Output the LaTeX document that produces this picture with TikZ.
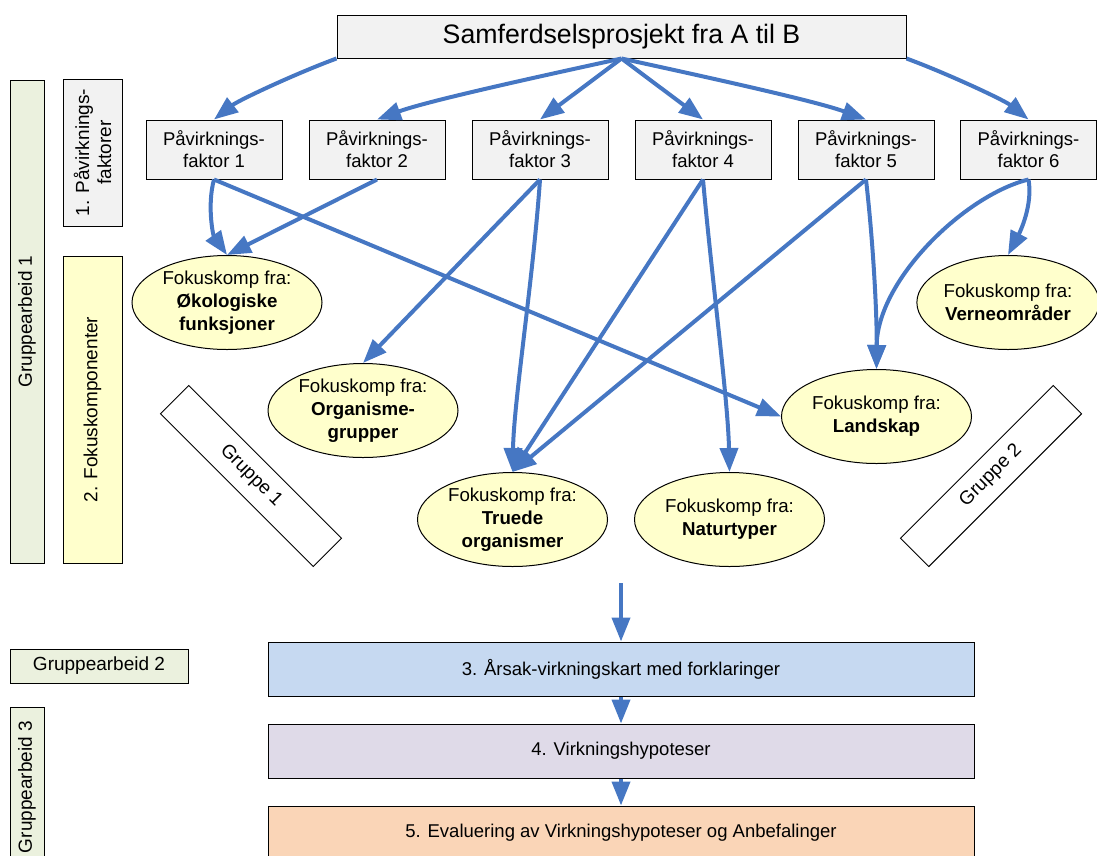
\documentclass[tikz,border=0pt]{standalone}
\usepackage{fontspec}
\setmainfont{Liberation Sans}
\usetikzlibrary{arrows.meta,shapes.geometric}

\definecolor{arrowblue}{HTML}{4677C3}
\definecolor{boxgray}{HTML}{F2F2F2}
\definecolor{greenbar}{HTML}{EBF1DE}
\definecolor{yellowbar}{HTML}{FFFFCC}
\definecolor{ellfill}{HTML}{FFFFCC}
\definecolor{stepblue}{HTML}{C6D9F1}
\definecolor{steplav}{HTML}{DFDAE8}
\definecolor{steppeach}{HTML}{FAD5B7}

\tikzset{
  pbox/.style={draw=black, line width=1pt, fill=boxgray, minimum width=136pt,
    minimum height=59pt, inner sep=0pt, align=center,
    font=\fontsize{18.5}{22}\selectfont},
  fokus/.style={draw=black, line width=1pt, fill=ellfill, ellipse,
    minimum width=190pt, minimum height=94pt, inner sep=0pt, align=center,
    font=\fontsize{18.7}{23}\selectfont},
  sidebar/.style={draw=black, line width=1pt, rotate=90, inner sep=0pt,
    align=center, font=\fontsize{19}{22}\selectfont},
  stepbox/.style={draw=black, line width=1pt, minimum width=706pt,
    minimum height=54pt, inner sep=0pt, font=\fontsize{18.5}{22}\selectfont},
  grpbox/.style={draw=black, line width=1pt, fill=white, minimum width=216pt,
    minimum height=40pt, inner sep=0pt, font=\fontsize{19}{22}\selectfont},
  link/.style={draw=arrowblue, line width=4pt,
    -{Triangle[length=24pt,width=18pt]}},
}

\begin{document}
\begin{tikzpicture}[x=1pt,y=-1pt]
\useasboundingbox (0,0) rectangle (1097,855);

% project box
\node[draw=black, line width=1pt, fill=boxgray, minimum width=569pt,
  minimum height=43pt, inner sep=0pt, font=\fontsize{26.7}{30}\selectfont]
  (top) at (621.5,36.5) {Samferdselsprosjekt fra A til B};

% impact factors
\node[pbox] (f1) at (214,149.5) {Påvirknings-\\faktor 1};
\node[pbox] (f2) at (377,149.5) {Påvirknings-\\faktor 2};
\node[pbox] (f3) at (540,149.5) {Påvirknings-\\faktor 3};
\node[pbox] (f4) at (703,149.5) {Påvirknings-\\faktor 4};
\node[pbox] (f5) at (866,149.5) {Påvirknings-\\faktor 5};
\node[pbox] (f6) at (1028.5,149.5) {Påvirknings-\\faktor 6};

% focus components
\node[fokus] (eco) at (227,302.5) {Fokuskomp fra:\\\textbf{Økologiske}\\\textbf{funksjoner}};
\node[fokus] (org) at (363,410.5) {Fokuskomp fra:\\\textbf{Organisme-}\\\textbf{grupper}};
\node[fokus] (tru) at (512.5,519.5) {Fokuskomp fra:\\\textbf{Truede}\\\textbf{organismer}};
\node[fokus] (nat) at (729.5,519.5) {Fokuskomp fra:\\\textbf{Naturtyper}};
\node[fokus] (land) at (876.5,416.5) {Fokuskomp fra:\\\textbf{Landskap}};
\node[fokus, minimum width=178pt] (vern) at (1008,302.5) {Fokuskomp fra:\\\textbf{Verneområder}};

% group labels
\node[grpbox, rotate=-45] (g1) at (251,476) {Gruppe 1};
\node[grpbox, rotate=45] (g2) at (991,476) {Gruppe 2};

% side bars
\node[sidebar, fill=greenbar, minimum width=483pt, minimum height=34pt]
  (ga1) at (27,321.5) {Gruppearbeid 1};
\node[sidebar, fill=boxgray, minimum width=147pt, minimum height=59pt]
  (s1) at (92.5,152.5) {1. Påvirknings-\\faktorer};
\node[sidebar, fill=yellowbar, minimum width=307pt, minimum height=59pt]
  (s2) at (92.5,409.5) {2. Fokuskomponenter};
\node[draw=black, line width=1pt, fill=greenbar, minimum width=178pt,
  minimum height=34pt, inner sep=0pt, font=\fontsize{19}{22}\selectfont]
  (ga2) at (99,666) {Gruppearbeid 2};
\node[sidebar, fill=greenbar, minimum width=160pt, minimum height=34pt]
  (ga3) at (27,787) {Gruppearbeid 3};

% process steps
\node[stepbox, fill=stepblue] (s3) at (621,669) {3. Årsak-virkningskart med forklaringer};
\node[stepbox, fill=steplav] (s4) at (621,751) {4. Virkningshypoteser};
\node[stepbox, fill=steppeach] (s5) at (621,833) {5. Evaluering av Virkningshypoteser og Anbefalinger};

% project -> factors
\draw[link] (top.south west) .. controls (297,73) and (239,100) .. (f1.north);
\draw[link] (top.south) .. controls (560,72) and (430,100) .. (f2.north);
\draw[link] (top.south) -- (f3.north);
\draw[link] (top.south) -- (f4.north);
\draw[link] (top.south) .. controls (683,72) and (813,100) .. (f5.north);
\draw[link] (top.south east) .. controls (946,73) and (1004,100) .. (f6.north);

% factors -> focus components
\draw[link] (f1.south) .. controls (207,205) and (213,235) .. (eco.north);
\draw[link] (f1.south) -- (land.west);
\draw[link] (f2.south) -- (eco.north);
\draw[link] (f3.south) -- (org.north);
\draw[link] (f3.south) .. controls (533,280) and (514,400) .. (tru.north);
\draw[link] (f4.south) -- (tru.north);
\draw[link] (f4.south) .. controls (712,280) and (728,400) .. (nat.north);
\draw[link] (f5.south) -- (tru.north);
\draw[link] (f5.south) .. controls (874,250) and (877,320) .. (land.north);
\draw[link] (f6.south) .. controls (965,195) and (877,280) .. (land.north);
\draw[link] (f6.south) .. controls (1033,205) and (1020,232) .. (vern.north);

% steps
\coordinate (feed) at (621,583);
\draw[link] (feed) -- (s3.north);
\draw[link] (s3.south) -- (s4.north);
\draw[link] (s4.south) -- (s5.north);
\end{tikzpicture}
\end{document}
